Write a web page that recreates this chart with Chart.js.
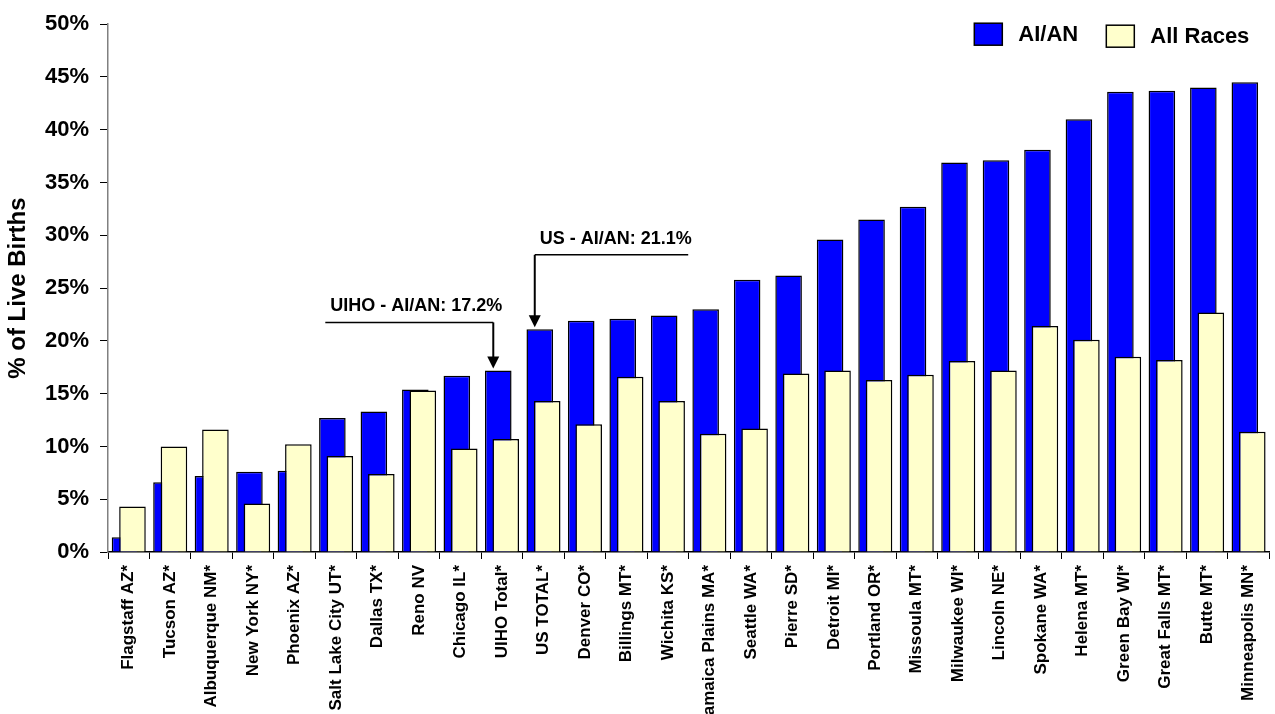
<!DOCTYPE html>
<html>
<head>
<meta charset="utf-8">
<script src="https://cdn.jsdelivr.net/npm/chart.js@4.4.1/dist/chart.umd.min.js"></script>
<style>
  html, body { margin: 0; padding: 0; background: #fff; }
  #wrap { width: 1275px; height: 714px; position: relative; }
</style>
</head>
<body>
<div id="wrap"><canvas id="c" width="1275" height="714"></canvas></div>
<script>
const categories = ['Flagstaff AZ*','Tucson AZ*','Albuquerque NM*','New York NY*','Phoenix AZ*','Salt Lake City UT*','Dallas TX*','Reno NV','Chicago IL*','UIHO Total*','US TOTAL*','Denver CO*','Billings MT*','Wichita KS*','Jamaica Plains MA*','Seattle WA*','Pierre SD*','Detroit MI*','Portland OR*','Missoula MT*','Milwaukee WI*','Lincoln NE*','Spokane WA*','Helena MT*','Green Bay WI*','Great Falls MT*','Butte MT*','Minneapolis MN*'];
const aian = [1.4,6.6,7.2,7.6,7.7,12.7,13.3,15.4,16.7,17.2,21.1,21.9,22.1,22.4,23.0,25.8,26.2,29.6,31.5,32.7,36.9,37.1,38.1,41.0,43.6,43.7,44.0,44.5];
const allRaces = [4.3,10.0,11.6,4.6,10.2,9.1,7.4,15.3,9.8,10.7,14.3,12.1,16.6,14.3,11.2,11.7,16.9,17.2,16.3,16.8,18.1,17.2,21.4,20.1,18.5,18.2,22.7,11.4];
const yTicks = [0,5,10,15,20,25,30,35,40,45,50];
const seriesNames = ['AI/AN','All Races'];
const callouts = [
  { index: 9, text: 'UIHO - AI/AN: 17.2%', lineValue: 21.75, side: 'left', span: 4.05 },
  { index: 10, text: 'US - AI/AN: 21.1%', lineValue: 28.15, side: 'right', span: 3.7 }
];

const FONT = '"Liberation Sans", Arial, Helvetica, sans-serif';

// draw datasets in index order so the All Races bars overlap the AI/AN bars
const drawOrderPlugin = {
  id: 'drawOrder',
  beforeDatasetsDraw(chart) {
    for (let i = 0; i < chart.data.datasets.length; i++) {
      const meta = chart.getDatasetMeta(i);
      if (meta.visible !== false) meta.controller.draw();
    }
    return false;
  }
};

const legendPlugin = {
  id: 'customLegend',
  afterDraw(chart) {
    const ctx = chart.ctx;
    const area = chart.chartArea;
    const ds = chart.data.datasets;
    const xs = [area.right - 295, area.right - 163];
    ctx.save();
    ctx.font = 'bold 22px ' + FONT;
    ctx.textBaseline = 'middle';
    ctx.textAlign = 'left';
    ds.forEach((d, i) => {
      const x = xs[i];
      const y = area.top - 1 + i * 2;
      ctx.fillStyle = d.backgroundColor;
      ctx.fillRect(x, y, 28, 22);
      ctx.lineWidth = 1.5;
      ctx.strokeStyle = '#000';
      ctx.strokeRect(x, y, 28, 22);
      ctx.fillStyle = '#000';
      ctx.fillText(d.label, x + 44, y + 12);
    });
    ctx.restore();
  }
};

const calloutPlugin = {
  id: 'callouts',
  afterDraw(chart) {
    const ctx = chart.ctx;
    const meta = chart.getDatasetMeta(0);
    const xs = chart.scales.x;
    const ys = chart.scales.y;
    const step = xs.getPixelForValue(1) - xs.getPixelForValue(0);
    ctx.save();
    ctx.strokeStyle = '#000';
    ctx.fillStyle = '#000';
    callouts.forEach(c => {
      const bar = meta.data[c.index];
      const ax = bar.x - 5;
      const lineY = ys.getPixelForValue(c.lineValue);
      const tipY = bar.y - 2;
      const otherX = c.side === 'left' ? ax - c.span * step : ax + c.span * step;
      ctx.lineWidth = 1.5;
      ctx.beginPath();
      ctx.moveTo(Math.min(ax, otherX), lineY);
      ctx.lineTo(Math.max(ax, otherX), lineY);
      ctx.stroke();
      ctx.lineWidth = 2;
      ctx.beginPath();
      ctx.moveTo(ax, lineY);
      ctx.lineTo(ax, tipY - 10);
      ctx.stroke();
      ctx.beginPath();
      ctx.moveTo(ax - 6, tipY - 12);
      ctx.lineTo(ax + 6, tipY - 12);
      ctx.lineTo(ax, tipY);
      ctx.closePath();
      ctx.fill();
      ctx.font = 'bold 18px ' + FONT;
      ctx.textBaseline = 'middle';
      ctx.textAlign = 'left';
      const tx = Math.min(ax, otherX) + 5;
      ctx.fillText(c.text, tx, lineY - 16);
    });
    ctx.restore();
  }
};

new Chart(document.getElementById('c'), {
  type: 'bar',
  data: {
    labels: categories,
    datasets: [
      {
        label: seriesNames[0],
        data: aian,
        backgroundColor: '#0000FF',
        borderColor: '#000000',
        borderWidth: 1.5,
        barPercentage: 3.56,
        categoryPercentage: 0.36
      },
      {
        label: seriesNames[1],
        data: allRaces,
        backgroundColor: '#FFFFCC',
        borderColor: '#000000',
        borderWidth: 1.5,
        barPercentage: 3.56,
        categoryPercentage: 0.36
      }
    ]
  },
  options: {
    responsive: false,
    animation: false,
    devicePixelRatio: 1,
    layout: { padding: { top: 20, right: 2, left: 0, bottom: 0 } },
    plugins: {
      legend: { display: false },
      tooltip: { enabled: false },
      title: { display: false }
    },
    scales: {
      x: {
        type: 'category',
        offset: true,
        grid: {
          display: true,
          offset: true,
          drawOnChartArea: false,
          drawTicks: true,
          tickLength: 7,
          color: '#000'
        },
        border: { display: true, color: '#000', width: 1.5 },
        ticks: {
          autoSkip: false,
          minRotation: 90,
          maxRotation: 90,
          padding: 6,
          color: '#000',
          font: { family: FONT, size: 17, weight: 'bold' }
        },
        afterFit(scale) { scale.height = 162; }
      },
      y: {
        min: 0,
        max: 50,
        afterBuildTicks(scale) { scale.ticks = yTicks.map(v => ({ value: v })); },
        grid: {
          display: true,
          drawOnChartArea: false,
          drawTicks: true,
          tickLength: 8,
          color: '#000'
        },
        border: { display: true, color: '#808080', width: 1.5 },
        ticks: {
          padding: 11,
          color: '#000',
          font: { family: FONT, size: 22, weight: 'bold' },
          callback: (v) => v + '%'
        },
        title: {
          display: true,
          text: '% of Live Births',
          color: '#000',
          font: { family: FONT, size: 24, weight: 'bold' },
          padding: { top: 4, bottom: 0 }
        },
        afterFit(scale) { scale.width = 108; }
      }
    }
  },
  plugins: [drawOrderPlugin, calloutPlugin, legendPlugin]
});
</script>
</body>
</html>
